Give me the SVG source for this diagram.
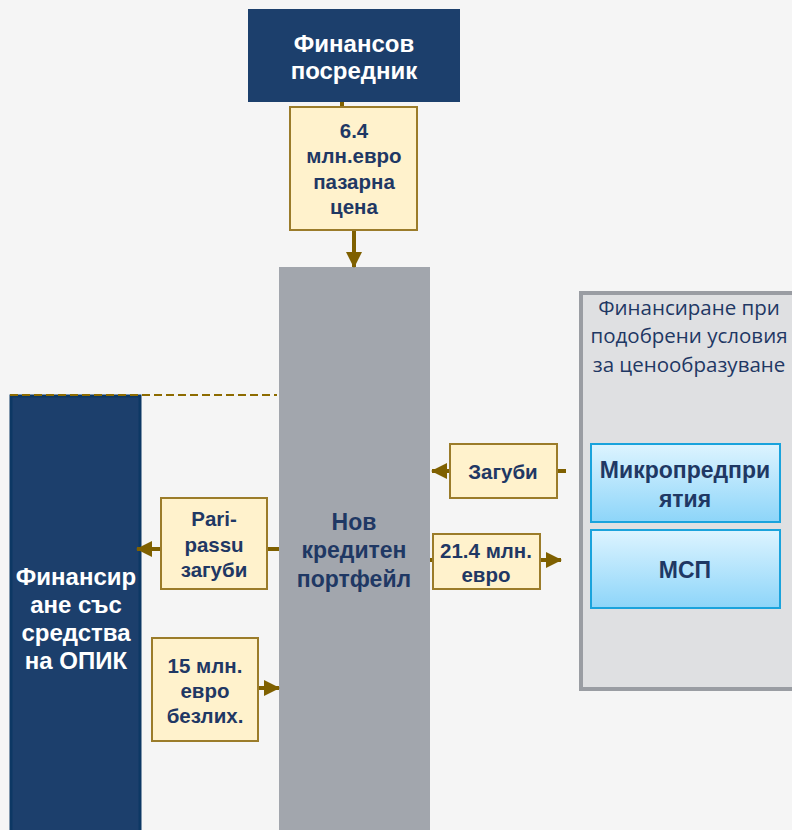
<svg xmlns="http://www.w3.org/2000/svg" width="792" height="830" viewBox="0 0 792 830">
<defs>
<style>
.bg{fill:#f5f5f5}
.dark{fill:#1c3f6c}
.note{fill:#fff2cc;stroke:#9b7c2a;stroke-width:2}
.lbl{font-family:"Liberation Sans",Arial,sans-serif;font-weight:bold;font-size:20.5px;fill:#1f3864;text-anchor:middle}
.wt{font-family:"Liberation Sans",Arial,sans-serif;font-weight:bold;font-size:24px;fill:#ffffff;text-anchor:middle}
.big{font-family:"Liberation Sans",Arial,sans-serif;font-weight:bold;font-size:23px;fill:#1f3864;text-anchor:middle}
.ttl{font-family:"Open Sans","Noto Sans",sans-serif;font-size:20.5px;fill:#1f3864;text-anchor:middle}
.con{stroke:#7f6000;stroke-width:4;fill:none}
.seg{fill:url(#blueg);stroke:#1aa3dc;stroke-width:2}
</style>
<linearGradient id="blueg" x1="0" y1="0" x2="0" y2="1">
<stop offset="0" stop-color="#ddf4ff"/>
<stop offset="1" stop-color="#8dd5f9"/>
</linearGradient>
<marker id="ah" markerUnits="userSpaceOnUse" markerWidth="16" markerHeight="16" refX="15" refY="8" orient="auto">
<path d="M0,0 L16,8 L0,16 Z" fill="#7f6000"/>
</marker>
</defs>
<rect class="bg" x="0" y="0" width="792" height="830"/>

<g id="right-panel">
<rect x="581" y="293" width="220" height="396" fill="#dfe0e2" stroke="#9a9da3" stroke-width="4"/>
<text class="ttl" x="689" y="315">Финансиране при</text>
<text class="ttl" x="689" y="343">подобрени условия</text>
<text class="ttl" x="689" y="372">за ценообразуване</text>
</g>
<g id="micro">
<rect class="seg" x="591" y="444" width="189" height="78"/>
<text class="big" x="685" y="478" font-size="24.5">Микропредпри</text>
<text class="big" x="685" y="507" font-size="24.5">ятия</text>
</g>
<g id="msp">
<rect class="seg" x="591" y="530" width="189" height="78"/>
<text class="big" x="685" y="578" font-size="24.5">МСП</text>
</g>

<g id="portfolio">
<rect x="279" y="267" width="151" height="563" fill="#a2a6ad"/>
<text class="big" x="354" y="530">Нов</text>
<text class="big" x="354" y="558">кредитен</text>
<text class="big" x="354" y="587">портфейл</text>
</g>

<g id="opik">
<rect x="11" y="396" width="129" height="440" fill="#1c3f6c" stroke="#0d3864" stroke-width="3"/>
<text class="wt" x="76" y="585" font-size="22.3">Финансир</text>
<text class="wt" x="76" y="613" font-size="22.3">ане със</text>
<text class="wt" x="76" y="641" font-size="22.3">средства</text>
<text class="wt" x="76" y="669" font-size="22.3">на ОПИК</text>
</g>

<g id="intermediary">
<rect class="dark" x="248" y="9" width="212" height="93"/>
<text class="wt" x="354" y="52">Финансов</text>
<text class="wt" x="354" y="79">посредник</text>
</g>

<g id="connectors">
<line x1="10" y1="395" x2="277" y2="395" stroke="#8d6b00" stroke-width="2" stroke-dasharray="8,4"/>
<line class="con" x1="342" y1="102" x2="342" y2="107"/>
<line class="con" x1="354" y1="230" x2="354" y2="267" marker-end="url(#ah)"/>
<line class="con" x1="279" y1="549" x2="267" y2="549"/>
<line class="con" x1="161" y1="549" x2="137" y2="549" marker-end="url(#ah)"/>
<line class="con" x1="258" y1="688" x2="279" y2="688" marker-end="url(#ah)"/>
<line class="con" x1="566" y1="471" x2="557" y2="471"/>
<line class="con" x1="450" y1="471" x2="432" y2="471" marker-end="url(#ah)"/>
<line class="con" x1="430" y1="560" x2="433" y2="560"/>
<line class="con" x1="540" y1="560" x2="561" y2="560" marker-end="url(#ah)"/>
</g>

<g id="n-64">
<rect class="note" x="290" y="107" width="127" height="123"/>
<text class="lbl" x="354" y="138">6.4</text>
<text class="lbl" x="354" y="163">млн.евро</text>
<text class="lbl" x="354" y="189">пазарна</text>
<text class="lbl" x="354" y="214">цена</text>
</g>
<g id="n-pari">
<rect class="note" x="161" y="498" width="106" height="91"/>
<text class="lbl" x="214" y="526">Pari-</text>
<text class="lbl" x="214" y="552">passu</text>
<text class="lbl" x="214" y="577">загуби</text>
</g>
<g id="n-15">
<rect class="note" x="152" y="638" width="106" height="103"/>
<text class="lbl" x="205" y="673">15 млн.</text>
<text class="lbl" x="205" y="698">евро</text>
<text class="lbl" x="205" y="723">безлих.</text>
</g>
<g id="n-losses">
<rect class="note" x="450" y="444" width="107" height="54"/>
<text class="lbl" x="503" y="479">Загуби</text>
</g>
<g id="n-214">
<rect class="note" x="433" y="534" width="107" height="55"/>
<text class="lbl" x="486" y="558">21.4 млн.</text>
<text class="lbl" x="486" y="582">евро</text>
</g>
</svg>
